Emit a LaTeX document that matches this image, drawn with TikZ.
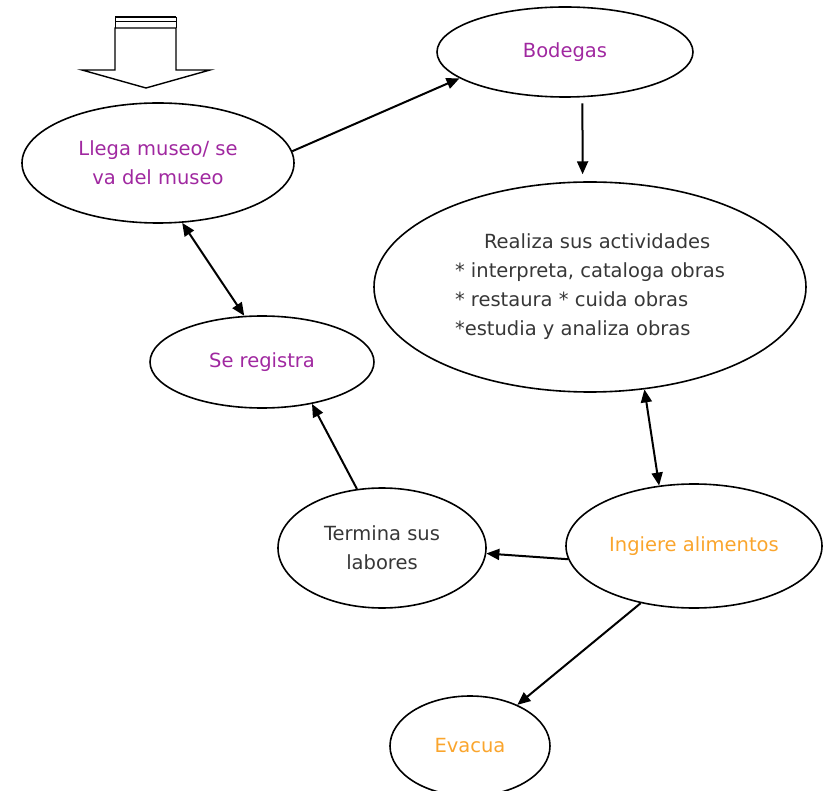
\documentclass[tikz,border=0pt]{standalone}
\usepackage{fontspec}
\setmainfont{DejaVu Sans}
\usepackage{tikz}
\usetikzlibrary{arrows.meta, shapes.geometric}

\definecolor{morado}{RGB}{160,40,160}
\definecolor{naranja}{RGB}{250,165,45}
\definecolor{gristexto}{RGB}{55,55,55}

\tikzset{
  estado/.style={shape=ellipse, draw, line width=1.6pt, inner sep=0pt, align=center,
    font=\fontsize{19.5}{29}\selectfont},
  flecha/.style={draw, line width=2pt, -{Triangle[length=13pt,width=11pt]}},
  dobleflecha/.style={draw, line width=2pt, {Triangle[length=13pt,width=11pt]}-{Triangle[length=13pt,width=11pt]}}
}

\begin{document}
\begin{tikzpicture}[x=1pt, y=-1pt]
    \useasboundingbox (0,0) rectangle (827,791);

    % entrada
    \draw[line width=1.4pt] (115,28) -- (115,70) -- (82,70) -- (146,88) -- (210,70) -- (176,70) -- (176,28) -- cycle;
    \draw[line width=2.2pt] (115,17) -- (176,17);
    \draw[line width=1.4pt] (115,21.5) -- (176,21.5);
    \draw[line width=1pt] (115,17) -- (115,28) (176,17) -- (176,28);

    \node at (158,163) (llega) [estado, minimum width=272pt, minimum height=120pt, text=morado] {Llega museo/ se\\va del museo};
    \node at (565,52) (bodegas) [estado, minimum width=256pt, minimum height=90pt, text=morado] {\raisebox{-4pt}{Bodegas}};
    \node at (590,287) (realiza) [estado, minimum width=432pt, minimum height=210pt, text=gristexto, align=left] {\hspace*{29pt}Realiza sus actividades\\* interpreta, cataloga obras\\* restaura * cuida obras\\*estudia y analiza obras};
    \node at (262,362) (registra) [estado, minimum width=224pt, minimum height=92pt, text=morado] {Se registra};
    \node at (382,548) (termina) [estado, minimum width=208pt, minimum height=120pt, text=gristexto] {Termina sus\\labores};
    \node at (694,546) (ingiere) [estado, minimum width=256pt, minimum height=124pt, text=naranja] {Ingiere alimentos};
    \node at (470,746) (evacua) [estado, minimum width=160pt, minimum height=100pt, text=naranja] {Evacua};

    \path[flecha] (llega.5) -- (bodegas.194);
    \path[flecha, shorten <=6pt, shorten >=7pt] (bodegas.-69) -- (realiza.94);
    \path[dobleflecha] (llega.-68) -- (registra.111);
    \path[flecha] (termina.113) -- (registra.-40);
    \path[dobleflecha] (realiza.-62) -- (ingiere.120);
    \path[flecha] (ingiere.186) -- (termina.-3);
    \path[flecha] (ingiere.227) -- (evacua.41);

\end{tikzpicture}
\end{document}
